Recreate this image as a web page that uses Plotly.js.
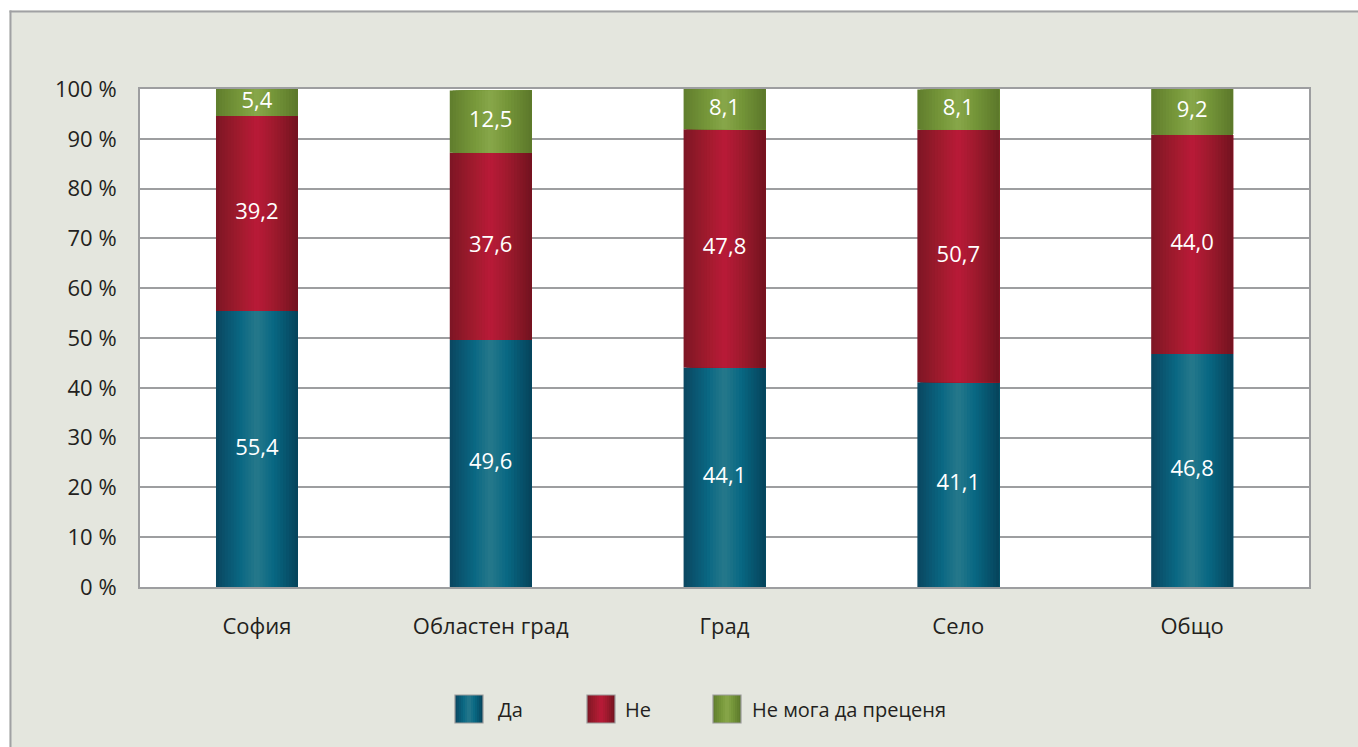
<!DOCTYPE html>
<html>
<head>
<meta charset="utf-8">
<script src="https://cdn.plot.ly/plotly-3.0.1.min.js"></script>
<style>
  html, body { margin: 0; padding: 0; background: #ffffff; }
  #chart { width: 1358px; height: 747px; }
</style>
</head>
<body>
<div id="chart"></div>
<script>
// ---- Data ----
const categories = ['София', 'Областен град', 'Град', 'Село', 'Общо'];
const seriesNames = ['Да', 'Не', 'Не мога да преценя'];
const valuesYes = [55.4, 49.6, 44.1, 41.1, 46.8];
const valuesNo = [39.2, 37.6, 47.8, 50.7, 44.0];
const valuesCantSay = [5.4, 12.5, 8.1, 8.1, 9.2];
const yTickValues = [0, 10, 20, 30, 40, 50, 60, 70, 80, 90, 100];
const yTickLabels = ['0 %', '10 %', '20 %', '30 %', '40 %', '50 %', '60 %', '70 %', '80 %', '90 %', '100 %'];

// ---- Styles ----
// cylindrical gradient stops across the bar width: [position, colour]
const seriesGradients = [
  [[0, '#0a4660'], [0.3, '#0a6883'], [0.5, '#26788b'], [0.7, '#086883'], [1, '#06435b']],
  [[0, '#7d1624'], [0.3, '#a21b2e'], [0.5, '#b91a38'], [0.7, '#a01a2e'], [1, '#72131f']],
  [[0, '#607d2d'], [0.3, '#77983a'], [0.5, '#88a74a'], [0.7, '#759639'], [1, '#5b772a']]
];
const FONT = '"Open Sans", "Noto Sans", sans-serif';
const TEXT_COLOR = '#231f20';
const GRID_COLOR = '#9d9ea0';
const FRAME_BG = '#e4e6de';
const BAR_WIDTH = 0.35;
const BANDS = 28;

const W = 1358, H = 747;
const M = { l: 140, r: 49, t: 89, b: 160 };
const PW = W - M.l - M.r, PH = H - M.t - M.b;
const px2x = px => (px - M.l) / PW;
const py2y = py => (H - M.b - py) / PH;

function hexToRgb(h) {
  return [parseInt(h.slice(1, 3), 16), parseInt(h.slice(3, 5), 16), parseInt(h.slice(5, 7), 16)];
}
function gradColor(stops, t) {
  for (let k = 0; k < stops.length - 1; k++) {
    const [t0, c0] = stops[k], [t1, c1] = stops[k + 1];
    if (t <= t1 || k === stops.length - 2) {
      const f = Math.max(0, Math.min(1, (t - t0) / (t1 - t0)));
      const a = hexToRgb(c0), b = hexToRgb(c1);
      return 'rgb(' + a.map((v, i) => Math.round(v + (b[i] - v) * f)).join(',') + ')';
    }
  }
}

const seriesValues = [valuesYes, valuesNo, valuesCantSay];
const fmt = v => v.toFixed(1).replace('.', ',');

// stacked bases derived from the data
const seriesBases = [];
let running = categories.map(() => 0);
seriesValues.forEach(vals => {
  seriesBases.push(running.slice());
  running = running.map((b, k) => b + vals[k]);
});

const traces = [];
const bandW = BAR_WIDTH / BANDS;
seriesValues.forEach((vals, i) => {
  for (let j = 0; j < BANDS; j++) {
    const off = -BAR_WIDTH / 2 + j * bandW;
    // each band reaches to the right edge; later bands paint over it (no seams)
    const w = BAR_WIDTH / 2 - off;
    traces.push({
      type: 'bar',
      name: seriesNames[i],
      x: categories,
      y: vals,
      base: seriesBases[i],
      offset: off,
      width: w,
      marker: { color: gradColor(seriesGradients[i], (j + 0.5) / BANDS), line: { width: 0 } },
      hoverinfo: 'skip',
      showlegend: false
    });
  }
});
// value labels
seriesValues.forEach((vals, i) => {
  traces.push({
    type: 'scatter',
    mode: 'text',
    x: categories,
    y: vals.map((v, k) => seriesBases[i][k] + v / 2),
    text: vals.map(fmt),
    textposition: 'middle center',
    textfont: { family: FONT, size: 22, color: '#ffffff' },
    hoverinfo: 'skip',
    showlegend: false
  });
});

// ---- Frame & custom legend ----
const shapes = [
  { type: 'rect', xref: 'paper', yref: 'paper', layer: 'below',
    x0: px2x(0), x1: px2x(W), y0: py2y(0), y1: py2y(10.5),
    fillcolor: '#ffffff', line: { width: 0 } },
  { type: 'rect', xref: 'paper', yref: 'paper', layer: 'below',
    x0: px2x(0), x1: px2x(9.5), y0: py2y(0), y1: py2y(H),
    fillcolor: '#ffffff', line: { width: 0 } },
  { type: 'line', xref: 'paper', yref: 'paper', layer: 'below',
    x0: px2x(9.5), x1: px2x(W), y0: py2y(11.5), y1: py2y(11.5),
    line: { color: '#a0a1a3', width: 2 } },
  { type: 'line', xref: 'paper', yref: 'paper', layer: 'below',
    x0: px2x(10.5), x1: px2x(10.5), y0: py2y(10.5), y1: py2y(H),
    line: { color: '#a0a1a3', width: 2 } }
];
const annotations = [];
const legendSwatchLeft = [455, 587, 713];
const legendTextLeft = [496, 623, 750];
const legendTop = 695, legendSize = 28, legendBands = 14;
seriesNames.forEach((name, i) => {
  const sw = legendSize / legendBands;
  for (let j = 0; j < legendBands; j++) {
    shapes.push({
      type: 'rect', xref: 'paper', yref: 'paper',
      x0: px2x(legendSwatchLeft[i] + j * sw), x1: px2x(legendSwatchLeft[i] + legendSize),
      y0: py2y(legendTop), y1: py2y(legendTop + legendSize),
      fillcolor: gradColor(seriesGradients[i], (j + 0.5) / legendBands), line: { width: 0 }
    });
  }
  shapes.push({
    type: 'rect', xref: 'paper', yref: 'paper',
    x0: px2x(legendSwatchLeft[i]), x1: px2x(legendSwatchLeft[i] + legendSize),
    y0: py2y(legendTop), y1: py2y(legendTop + legendSize),
    fillcolor: 'rgba(0,0,0,0)', line: { color: '#9a9a9a', width: 1.2 }
  });
  annotations.push({
    xref: 'paper', yref: 'paper', showarrow: false,
    x: px2x(legendTextLeft[i]), y: py2y(legendTop + legendSize / 2),
    xanchor: 'left', yanchor: 'middle',
    text: name, font: { family: FONT, size: 20, color: TEXT_COLOR }
  });
});

const layout = {
  width: W, height: H, autosize: false,
  margin: M,
  paper_bgcolor: FRAME_BG,
  plot_bgcolor: '#ffffff',
  font: { family: FONT, size: 22, color: TEXT_COLOR },
  barmode: 'overlay',
  showlegend: false,
  xaxis: {
    type: 'category',
    categoryorder: 'array', categoryarray: categories,
    range: [-0.5, categories.length - 0.5],
    showgrid: false,
    showline: true, mirror: true, linecolor: GRID_COLOR, linewidth: 2,
    ticks: '', ticklabelstandoff: 19,
    tickfont: { family: FONT, size: 22, color: TEXT_COLOR },
    fixedrange: true
  },
  yaxis: {
    range: [0, 100],
    tickvals: yTickValues, ticktext: yTickLabels,
    showgrid: true, gridcolor: GRID_COLOR, gridwidth: 2,
    zeroline: false,
    showline: true, mirror: true, linecolor: GRID_COLOR, linewidth: 2,
    ticks: '', ticklabelstandoff: 17,
    tickfont: { family: FONT, size: 22, color: TEXT_COLOR },
    fixedrange: true
  },
  shapes: shapes,
  annotations: annotations
};

Plotly.newPlot('chart', traces, layout, { displayModeBar: false, staticPlot: true });
</script>
</body>
</html>
